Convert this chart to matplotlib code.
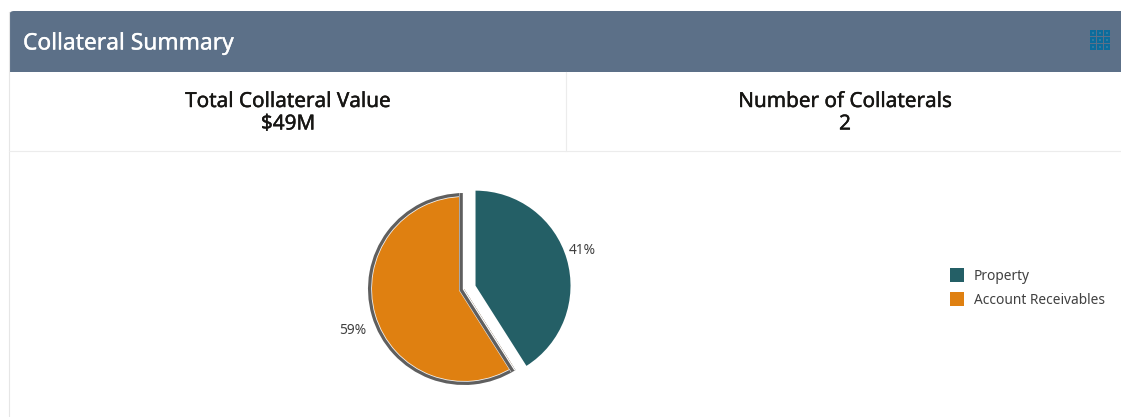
import matplotlib
matplotlib.use("Agg")
import matplotlib.pyplot as plt
import matplotlib.patheffects as pe
import numpy as np
from matplotlib.patches import FancyBboxPatch, Rectangle

W, H = 1121, 417

title = "Collateral Summary"
kpi_labels = ["Total Collateral Value", "Number of Collaterals"]
kpi_values = ["$49M", "2"]
categories = ["Property", "Account Receivables"]
shares = [41, 59]
colors = ["#245f66", "#df8011"]

plt.rcParams["font.family"] = ["Noto Sans", "DejaVu Sans"]

fig = plt.figure(figsize=(W / 100, H / 100), dpi=100, facecolor="white")

# page layer, in pixel coords so it lines up with the screenshot
bg = fig.add_axes([0, 0, 1, 1])
bg.set_xlim(0, W)
bg.set_ylim(H, 0)
bg.axis("off")

bg.plot([9, 9], [12, H], color="#e6e6e6", lw=0.8)
bg.add_patch(FancyBboxPatch((9, 11), W + 30, 90, boxstyle="round,pad=0,rounding_size=5",
                            fc="#5c7088", ec="none"))
bg.add_patch(Rectangle((9.5, 72), W, H, fc="white", ec="none"))
bg.plot([9, W], [151, 151], color="#ececec", lw=0.8)
bg.plot([566, 566], [72, 151], color="#ececec", lw=0.8)

bg.text(23, 43.5, title, color="white", fontsize=16.4, va="center", ha="left",
        path_effects=[pe.withStroke(linewidth=0.25, foreground="white")])

# grid icon top right
for row in range(3):
    for col in range(3):
        x = 1090 + col * 7
        y = 30 + row * 7
        bg.add_patch(Rectangle((x, y), 6.4, 6.4, fc="#0c6c9c", ec="none"))
        bg.add_patch(Rectangle((x + 2.2, y + 2.2), 2, 2, fc="#2f7ba1", ec="none"))

# no semibold cut installed, so thicken the regular one a little
heavy = [pe.withStroke(linewidth=0.3, foreground="#161513")]
for cx, label, value in zip([288, 845], kpi_labels, kpi_values):
    bg.text(cx, 102, label, color="#161513", fontsize=14.9, ha="center", va="center", path_effects=heavy)
    bg.text(cx, 124.5, value, color="#161513", fontsize=14.9, ha="center", va="center", path_effects=heavy)

# legend
for y, name, c in zip([275, 299], categories, colors):
    bg.add_patch(Rectangle((950, y - 7), 14, 14, fc=c, ec="none"))
    bg.text(974, y + 1.5, name, color="#404040", fontsize=9.9, ha="left", va="center")

bg.text(582, 250.5, f"{shares[0]}%", color="#404040", fontsize=9.9, ha="center", va="center")
bg.text(353, 330.5, f"{shares[1]}%", color="#404040", fontsize=9.9, ha="center", va="center")

# pie axes is 240px square around the pie centre, 1 data unit = 1px
cx, cy, half = 464, 289, 120
pie_ax = fig.add_axes([(cx - half) / W, 1 - (cy + half) / H, 2 * half / W, 2 * half / H])
pie_ax.patch.set_alpha(0)

explode = [12, 0]
teal, _ = pie_ax.pie(shares, colors=[colors[0], "none"], startangle=90, counterclock=False,
                     explode=explode, radius=95)
teal[1].set_visible(False)

wedges, _ = pie_ax.pie(shares, colors=["none", "#5f5f5f"], startangle=90, counterclock=False,
                       explode=explode, radius=96)
wedges[0].set_visible(False)
# selected slice look: grey ring, thin white ring, then the fill
for radius, col in [(92.8, "#f4f4f4"), (92, colors[1])]:
    ring, _ = pie_ax.pie(shares, colors=["none", col], startangle=90, counterclock=False,
                         explode=explode, radius=radius)
    ring[0].set_visible(False)

# same outline along the two straight edges, kept inside the slice by the clip
slice_ = wedges[1]
a1, a2 = np.deg2rad(slice_.theta1), np.deg2rad(slice_.theta2)
r = slice_.r
xs = [slice_.center[0] + r * np.cos(a1), slice_.center[0], slice_.center[0] + r * np.cos(a2)]
ys = [slice_.center[1] + r * np.sin(a1), slice_.center[1], slice_.center[1] + r * np.sin(a2)]
for width_px, col in [(10, "#f4f4f4"), (9, "#5f5f5f"), (2.4, "white")]:
    line, = pie_ax.plot(xs, ys, color=col, lw=width_px * 0.72, solid_joinstyle="miter",
                        solid_capstyle="butt")
    line.set_clip_path(slice_)

pie_ax.set_xlim(-half, half)
pie_ax.set_ylim(-half, half)
pie_ax.set_aspect("equal")
pie_ax.axis("off")

fig.savefig("out.png", dpi=100)
